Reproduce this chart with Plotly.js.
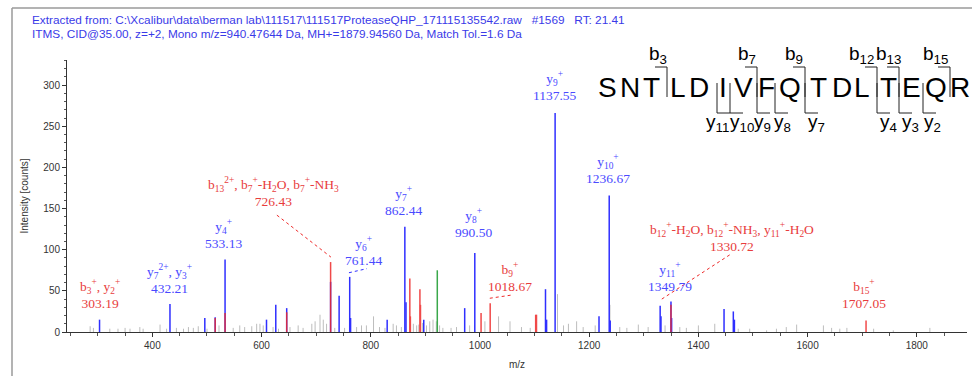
<!DOCTYPE html>
<html><head><meta charset="utf-8">
<script src="https://cdn.plot.ly/plotly-3.0.1.min.js"></script>
<style>body{margin:0;background:#fff}#chart{width:972px;height:376px}</style>
</head><body><div id="chart"></div>
<script>
// ---- data ----
const greyMz  = [286,292,322,337,350,359,377,383,414,426,444,457,466,475,484,500,522,548,560,569,582,591,597,603,621,631,652,667,676,692,698,707,713,719,734,752,774,783,792,805,816,826,841,847,856,878,884,888,895,902,908,914,920,926,932,947,957,981,990,1009,1034,1055,1076,1092,1142,1153,1162,1177,1189,1211,1238,1256,1269,1290,1308,1339,1366,1378,1400,1430,1473,1494,1525,1543,1561,1580,1629,1644,1659,1672,1721,1757,1824];
const greyInt = [7,5,4,4,5,4,6,4,9,4,5,4,6,5,7,4,8,5,8,6,7,10,10,8,6,4,6,8,5,10,13,21,15,10,5,5,6,8,8,19,6,5,10,8,6,10,8,9,11,8,13,15,13,8,5,5,6,8,8,13,19,13,6,5,46,8,10,13,6,8,33,6,5,9,6,8,6,5,8,10,4,4,2,4,6,9,8,5,4,5,4,2,5];

const blueMz  = [303.2,432.2,496,515,533.1,609,626,646,726.4,742,761.4,763,830,862.4,864.5,897,972,990.5,1120,1122,1137.6,1218,1236.7,1238.5,1330,1331.5,1349.8,1351,1447,1464,1466];
const blueInt = [15,34,17,18,88,15,33,29,61,44,67,17,15,128,36,15,29,96,52,15,266,19,166,14,32,19,37,17,28,25,15];

const redMz  = [515,533.1,646,726.4,871.5,872.5,890,891,1002,1018.7,1102,1103.5,1349.8,1707.1];
const redInt = [17,23,24,85,65,19,52,33,23,35,21,21,33,14];

const greenMz  = [921.8];
const greenInt = [75];

const peakLabelText = [
  "b<sub>3</sub><sup>+</sup>, y<sub>2</sub><sup>+</sup><br>303.19",
  "y<sub>7</sub><sup>2+</sup>, y<sub>3</sub><sup>+</sup><br>432.21",
  "y<sub>4</sub><sup>+</sup><br>533.13",
  "b<sub>13</sub><sup>2+</sup>, b<sub>7</sub><sup>+</sup>-H<sub>2</sub>O, b<sub>7</sub><sup>+</sup>-NH<sub>3</sub><br>726.43",
  "y<sub>6</sub><sup>+</sup><br>761.44",
  "y<sub>7</sub><sup>+</sup><br>862.44",
  "y<sub>9</sub><sup>+</sup><br>1137.55",
  "y<sub>8</sub><sup>+</sup><br>990.50",
  "b<sub>9</sub><sup>+</sup><br>1018.67",
  "y<sub>10</sub><sup>+</sup><br>1236.67",
  "b<sub>12</sub><sup>+</sup>-H<sub>2</sub>O, b<sub>12</sub><sup>+</sup>-NH<sub>3</sub>, y<sub>11</sub><sup>+</sup>-H<sub>2</sub>O<br>1330.72",
  "y<sub>11</sub><sup>+</sup><br>1349.79",
  "b<sub>15</sub><sup>+</sup><br>1707.05"
];
const peakLabelKind = ["b","y","y","b","y","y","y","y","b","y","b","y","b"];

const sequence = ["S","N","T","L","D","I","V","F","Q","T","D","L","T","E","Q","R"];
const bIons = [3,7,9,12,13,15];
const yIons = [11,10,9,8,7,4,3,2];

const xTickVals = [400,600,800,1000,1200,1400,1600,1800];
const yTickVals = [0,50,100,150,200,250,300];

const NB = "\u00a0";
const headerLines = [
  "Extracted from: C:\\Xcalibur\\data\\berman lab\\111517\\111517ProteaseQHP_171115135542.raw" + NB.repeat(3) + "#1569" + NB.repeat(3) + "RT: 21.41",
  "ITMS, CID@35.00, z=+2, Mono m/z=940.47644 Da, MH+=1879.94560 Da, Match Tol.=1.6 Da"
];

// ---- layout helpers ----
const L = 67, R = 967, T = 60, B = 332;
const px = x => (x - L) / (R - L);
const py = y => 1 - (y - T) / (B - T);

function sticks(mz, inten) {
  const x = [], y = [];
  mz.forEach((m, i) => { x.push(m, m, null); y.push(0, inten[i], null); });
  return {x, y};
}

const BLUE = "#2f2fff", RED = "#ee2a2a", GREEN = "#3aa84a", GREY = "#bdbdbd";
const BLUE_T = "#4a4aff", RED_T = "#e83c3c";

const g = sticks(greyMz, greyInt), b = sticks(blueMz, blueInt), r = sticks(redMz, redInt), gr = sticks(greenMz, greenInt);
const traces = [
  {x: g.x, y: g.y, mode: "lines", line: {color: GREY, width: 1}, hoverinfo: "skip"},
  {x: gr.x, y: gr.y, mode: "lines", line: {color: GREEN, width: 1.5}, hoverinfo: "skip"},
  {x: b.x, y: b.y, mode: "lines", line: {color: BLUE, width: 1.5}, hoverinfo: "skip"},
  {x: r.x, y: r.y, mode: "lines", line: {color: RED, width: 1.5}, opacity: 0.85, hoverinfo: "skip"}
];

// label placement (layout): [x data, y data]
const labelPos = [[304,46],[432,64],[531,119],[621,170],[786,98],[859,159],[1137,299],[989,132],[1055,67],[1234,198],[1461,115],[1348,67],[1703,46]];

const annotations = [];
peakLabelText.forEach((t, i) => {
  annotations.push({x: labelPos[i][0], y: labelPos[i][1], xref: "x", yref: "y", text: t, showarrow: false,
    font: {family: "Liberation Serif, serif", size: 13.5, color: peakLabelKind[i] === "b" ? RED_T : BLUE_T},
    xanchor: "center", yanchor: "middle"});
});
headerLines.forEach((t, i) => {
  annotations.push({x: px(30), y: py(20 + i * 13.5), xref: "paper", yref: "paper", text: t, showarrow: false,
    xanchor: "left", yanchor: "middle", font: {family: "Liberation Sans, Arial", size: 11.8, color: "#3a3ae8"}});
});
const letterPx = [607,630,651,678,699,723,743,766,790,818,842,862,888,911,936,960];
sequence.forEach((s, i) => {
  annotations.push({x: px(letterPx[i]), y: py(87), xref: "paper", yref: "paper", text: s, showarrow: false,
    xanchor: "center", yanchor: "middle", font: {family: "Liberation Sans, Arial", size: 28, color: "#000"}});
});
const gapPx = {3:667,5:717,6:730,7:757,8:775,9:805,12:877,13:899,14:923,15:950};
const bLabelPx = {3:658,7:747,9:794,12:861,13:888,15:935};
const yLabelPx = {11:717,10:742,9:762,8:782,7:816,4:888,3:910,2:932};
const shapes = [];
const line = (x0,y0,x1,y1,c,w,d) => shapes.push({type:"line", xref:"paper", yref:"paper", x0:px(x0), y0:py(y0), x1:px(x1), y1:py(y1), line:{color:c, width:w, dash:d||"solid"}});
bIons.forEach(n => {
  const gx = gapPx[n];
  line(gx-12, 67, gx, 67, "#222", 1);
  line(gx, 67, gx, 97, "#222", 1);
  annotations.push({x: px(bLabelPx[n]), y: py(55), xref: "paper", yref: "paper", text: "b<sub>" + n + "</sub>", showarrow: false,
    xanchor: "center", yanchor: "middle", font: {family: "Liberation Sans, Arial", size: 19, color: "#000"}});
});
yIons.forEach(n => {
  const gx = gapPx[16 - n];
  line(gx, 83, gx, 113, "#222", 1);
  line(gx, 113, gx+13, 113, "#222", 1);
  annotations.push({x: px(yLabelPx[n]), y: py(123), xref: "paper", yref: "paper", text: "y<sub>" + n + "</sub>", showarrow: false,
    xanchor: "center", yanchor: "middle", font: {family: "Liberation Sans, Arial", size: 19, color: "#000"}});
});
// frame
line(12, 8, 12, 380, "#9a9a9a", 1.5);
line(12, 8, 980, 8, "#9a9a9a", 1.5);
// leader lines (data coords)
const leader = (x0,y0,x1,y1,c) => shapes.push({type:"line", xref:"x", yref:"y", x0, y0, x1, y1, line:{color:c, width:1, dash:"dot"}});
leader(628,142,727,91,RED);
leader(760,72,793,77,BLUE);
leader(1018,41,1059,45,RED);
leader(1333,40,1458,94,RED);

const axisFont = {family: "Liberation Sans, Arial", size: 10, color: "#333"};
const layout = {
  width: 972, height: 376,
  margin: {l: L, r: 972 - R, t: T, b: 376 - B},
  paper_bgcolor: "#fff", plot_bgcolor: "#fff",
  showlegend: false,
  xaxis: {range: [243.6, 1892], tickvals: xTickVals, ticktext: xTickVals.map(String), ticks: "outside", ticklen: 4, tickcolor: "#333",
    showline: true, linecolor: "#333", linewidth: 1, showgrid: false, zeroline: false, tickfont: axisFont,
    minor: {dtick: 50, tick0: 0, ticks: "outside", ticklen: 3, tickcolor: "#555", showgrid: false},
    title: {text: "m/z", font: {family: "Liberation Sans, Arial", size: 10, color: "#333"}, standoff: 10}},
  yaxis: {range: [0, 330.5], tickvals: yTickVals, ticktext: yTickVals.map(String), ticks: "outside", ticklen: 4, tickcolor: "#333",
    showline: true, linecolor: "#333", linewidth: 1, showgrid: false, zeroline: false, tickfont: axisFont,
    minor: {dtick: 10, tick0: 0, ticks: "outside", ticklen: 2, tickcolor: "#555", showgrid: false},
    title: {text: "Intensity [counts]", font: {family: "Liberation Sans, Arial", size: 10, color: "#333"}, standoff: 12}},
  annotations, shapes
};
Plotly.newPlot("chart", traces, layout, {staticPlot: true, displayModeBar: false});
</script></body></html>
